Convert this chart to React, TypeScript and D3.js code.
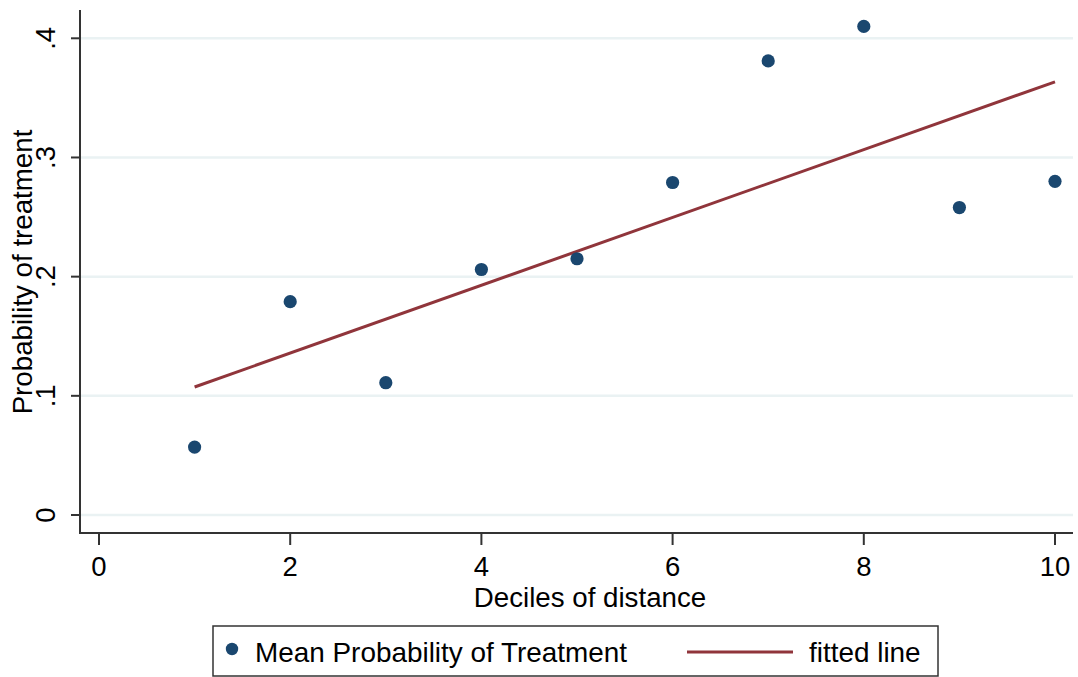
import React from 'react';
import * as d3 from 'd3';

// deciles of distance and mean probability of treatment
const deciles = [1, 2, 3, 4, 5, 6, 7, 8, 9, 10];
const meanProb = [0.057, 0.179, 0.111, 0.206, 0.215, 0.279, 0.381, 0.410, 0.258, 0.280];

// fitted line endpoints
const fitX = [1, 10];
const fitY = [0.1074, 0.3635];

const xTicks = [0, 2, 4, 6, 8, 10];
const yTicks = [0, 0.1, 0.2, 0.3, 0.4];
const yTickLabels = ['0', '.1', '.2', '.3', '.4'];

const W = 1078;
const H = 677;
const font = '"Liberation Sans", Arial, sans-serif';
const dotColor = '#1a476f';
const lineColor = '#90353b';

const App = () => {
  const plot = { left: 80, right: 1073, top: 10, bottom: 533 };
  const x = d3.scaleLinear().domain([0, 10]).range([99, 1055]);
  const y = d3.scaleLinear().domain([0, 0.4]).range([515, 38.3]);

  const fit = fitX.map((d, i) => [d, fitY[i]] as [number, number]);
  const line = d3.line<[number, number]>()
    .x(d => x(d[0]))
    .y(d => y(d[1]));

  return (
    <svg width={W} height={H} style={{ position: 'absolute', left: 0, top: 0, background: '#fff' }}
      fontFamily={font}>
      <rect width={W} height={H} fill="#fff" />

      {/* grid */}
      {yTicks.map(t => (
        <line key={'g' + t} x1={plot.left} x2={plot.right} y1={y(t)} y2={y(t)}
          stroke="#eaf2f3" strokeWidth={2.5} />
      ))}

      {/* axes */}
      <line x1={plot.left} x2={plot.left} y1={plot.top} y2={plot.bottom + 1} stroke="#333" strokeWidth={2} />
      <line x1={plot.left - 1} x2={plot.right} y1={plot.bottom} y2={plot.bottom} stroke="#333" strokeWidth={2} />

      {yTicks.map((t, i) => (
        <g key={'y' + t}>
          <line x1={plot.left - 9} x2={plot.left} y1={y(t)} y2={y(t)} stroke="#333" strokeWidth={2} />
          <text transform={`translate(55,${y(t)}) rotate(-90)`} textAnchor="middle" fontSize={27.5} fill="#000">
            {yTickLabels[i]}
          </text>
        </g>
      ))}

      {xTicks.map(t => (
        <g key={'x' + t}>
          <line x1={x(t)} x2={x(t)} y1={plot.bottom} y2={plot.bottom + 12} stroke="#333" strokeWidth={2} />
          <text x={x(t)} y={576} textAnchor="middle" fontSize={27.5} fill="#000">{t}</text>
        </g>
      ))}

      <text x={590} y={607} textAnchor="middle" fontSize={27.7} fill="#000">Deciles of distance</text>
      <text transform="translate(32,272) rotate(-90)" textAnchor="middle" fontSize={27.7} fill="#000">
        Probability of treatment
      </text>

      {/* fitted line */}
      <path d={line(fit) || ''} fill="none" stroke={lineColor} strokeWidth={3} />

      {/* points */}
      {deciles.map((d, i) => (
        <circle key={'p' + d} cx={x(d)} cy={y(meanProb[i])} r={6.6} fill={dotColor} />
      ))}

      {/* legend */}
      <rect x={213} y={626} width={725} height={50} fill="#fff" stroke="#333" strokeWidth={1.5} />
      <circle cx={232} cy={649} r={6.2} fill={dotColor} />
      <text x={255} y={662} fontSize={27.9} fill="#000">Mean Probability of Treatment</text>
      <line x1={687} x2={793} y1={652} y2={652} stroke={lineColor} strokeWidth={3} />
      <text x={809} y={662} fontSize={27.9} fill="#000">fitted line</text>
    </svg>
  );
};

export default App;
